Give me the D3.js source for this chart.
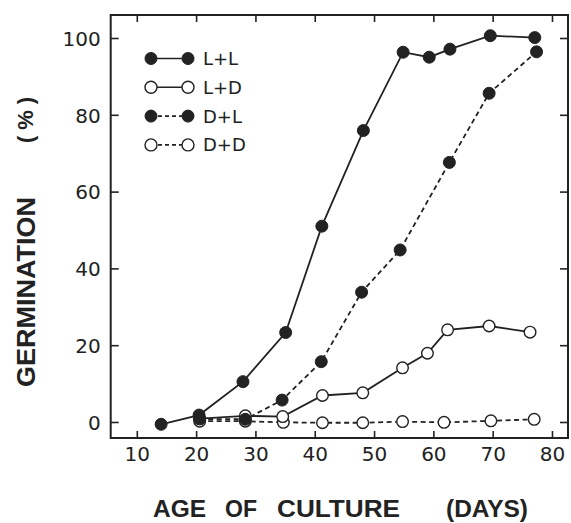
<!DOCTYPE html>
<html>
<head>
<meta charset="utf-8">
<script src="https://cdn.jsdelivr.net/npm/d3@7"></script>
<style>
  body { margin: 0; background: #fff; }
  .tick-label { font-family: "DejaVu Sans", sans-serif; font-size: 20px; fill: #222; }
  .axis-title { font-family: "Liberation Sans", Arial, sans-serif; font-weight: bold; fill: #222; }
  .legend-label { font-family: "DejaVu Sans", sans-serif; font-size: 18px; fill: #222; }
</style>
</head>
<body>
<div id="chart-area"></div>
<script>

// ---- data ----
var seriesNames = ["L+L", "L+D", "D+L", "D+D"];

var daysLL = [14.1, 20.5, 27.9, 35.1, 41.2, 48.2, 54.9, 59.3, 62.8, 69.6, 77.1];
var germLL = [-0.6, 1.8, 10.5, 23.3, 51.0, 75.9, 96.3, 95.0, 97.1, 100.6, 100.1];

var daysLD = [20.6, 28.3, 34.6, 41.3, 48.1, 54.8, 59.0, 62.4, 69.4, 76.3];
var germLD = [0.9, 1.6, 1.4, 6.9, 7.6, 14.1, 17.9, 24.0, 25.0, 23.4];

var daysDL = [20.6, 28.3, 34.5, 41.1, 47.9, 54.4, 62.7, 69.4, 77.4];
var germDL = [0.8, 0.7, 5.7, 15.7, 33.8, 44.8, 67.6, 85.6, 96.4];

var daysDD = [20.6, 28.3, 34.7, 41.3, 48.1, 54.8, 61.8, 69.7, 77.0];
var germDD = [0.2, 0.2, -0.1, -0.2, -0.2, 0.1, -0.1, 0.3, 0.7];

var xTicks = [10, 20, 30, 40, 50, 60, 70, 80];
var yTicks = [0, 20, 40, 60, 80, 100];


/*
 * LineChart - draws the germination curves
 * @param _parentElement  -- id of the container
 * @param _series         -- series in legend order
 * @param _drawOrder      -- order in which the curves are stacked
 */
LineChart = function(_parentElement, _series, _drawOrder){
	this.parentElement = _parentElement;
	this.series = _series;
	this.drawOrder = _drawOrder;
	this.initVis();
}

LineChart.prototype.initVis = function(){
	var vis = this;

	vis.margin = { top: 15, right: 3, bottom: 85, left: 110.7 };
	vis.width = 571 - vis.margin.left - vis.margin.right;
	vis.height = 523 - vis.margin.top - vis.margin.bottom;

	vis.svg = d3.select("#" + vis.parentElement)
		.append("svg")
			.attr("width", 571)
			.attr("height", 523)
		.append("g")
			.attr("transform", "translate(" + vis.margin.left + "," + vis.margin.top + ")");

	// Scales
	vis.x = d3.scaleLinear()
		.domain([5.6, 82.7])
		.range([0, vis.width]);

	vis.y = d3.scaleLinear()
		.domain([-4.17, 105.99])
		.range([vis.height, 0]);

	// Axes, ticks pointing inward on all four sides
	var xAxis = d3.axisBottom(vis.x).tickValues(xTicks).tickSize(-7).tickPadding(9);
	var xAxisTop = d3.axisTop(vis.x).tickValues(xTicks).tickSize(-7).tickFormat("");
	var yAxis = d3.axisLeft(vis.y).tickValues(yTicks).tickSize(-8).tickPadding(10);
	var yAxisRight = d3.axisRight(vis.y).tickValues(yTicks).tickSize(-8).tickFormat("");

	vis.svg.append("g")
		.attr("class", "x-axis axis")
		.attr("transform", "translate(0," + vis.height + ")")
		.call(xAxis);
	vis.svg.append("g").attr("class", "axis").call(xAxisTop);
	vis.svg.append("g").attr("class", "y-axis axis").call(yAxis);
	vis.svg.append("g").attr("class", "axis")
		.attr("transform", "translate(" + vis.width + ",0)")
		.call(yAxisRight);

	vis.svg.selectAll(".axis .domain").remove();
	vis.svg.selectAll(".axis line").attr("stroke", "#222").attr("stroke-width", 1.6);
	vis.svg.selectAll(".axis text").attr("class", "tick-label").attr("fill", "#222");
	vis.svg.selectAll(".y-axis text").attr("dy", ".36em");

	// Frame
	vis.svg.append("rect")
		.attr("x", 0)
		.attr("y", 0)
		.attr("width", vis.width)
		.attr("height", vis.height)
		.attr("fill", "none")
		.attr("stroke", "#222")
		.attr("stroke-width", 2);

	// Axis titles
	var xWords = [["AGE", 153, 53], ["OF", 225, 32], ["CULTURE", 277, 123], ["(DAYS)", 446, 82]];
	vis.svg.selectAll(".x-title")
		.data(xWords)
		.enter().append("text")
			.attr("class", "axis-title x-title")
			.attr("x", function(d) { return d[1] - vis.margin.left; })
			.attr("y", 517 - vis.margin.top)
			.attr("font-size", 24)
			.attr("textLength", function(d) { return d[2]; })
			.attr("lengthAdjust", "spacingAndGlyphs")
			.text(function(d) { return d[0]; });

	vis.svg.append("text")
		.attr("class", "axis-title")
		.attr("transform", "translate(" + (35 - vis.margin.left) + "," + (292 - vis.margin.top) + ") rotate(-90)")
		.attr("text-anchor", "middle")
		.attr("font-size", 26)
		.attr("textLength", 190)
		.attr("lengthAdjust", "spacingAndGlyphs")
		.text("GERMINATION");

	vis.svg.append("text")
		.attr("class", "axis-title")
		.attr("transform", "translate(" + (33 - vis.margin.left) + "," + (120 - vis.margin.top) + ") rotate(-90)")
		.attr("text-anchor", "middle")
		.attr("font-size", 22)
		.attr("font-weight", "normal")
		.attr("textLength", 46)
		.attr("lengthAdjust", "spacing")
		.text("( % )");

	vis.updateVis();
}

LineChart.prototype.updateVis = function(){
	var vis = this;

	var line = d3.line()
		.x(function(d) { return vis.x(d.day); })
		.y(function(d) { return vis.y(d.value); });

	// lines first, then markers on top
	vis.drawOrder.forEach(function(s){
		vis.svg.append("path")
			.datum(s.points)
			.attr("fill", "none")
			.attr("stroke", "#222")
			.attr("stroke-width", 1.8)
			.attr("stroke-dasharray", s.dashed ? "5,3.5" : null)
			.attr("d", line);
	});

	vis.drawOrder.forEach(function(s, k){
		vis.svg.selectAll(".dot-" + k)
			.data(s.points)
			.enter().append("circle")
				.attr("class", "dot-" + k)
				.attr("cx", function(d) { return vis.x(d.day); })
				.attr("cy", function(d) { return vis.y(d.value); })
				.attr("r", s.filled ? 6 : 5.8)
				.attr("fill", s.filled ? "#222" : "#fff")
				.attr("stroke", "#222")
				.attr("stroke-width", s.filled ? 1 : 1.4);
	});

	// Legend
	var legend = vis.svg.selectAll(".legend-item")
		.data(vis.series)
		.enter().append("g")
			.attr("class", "legend-item")
			.attr("transform", function(d, i) {
				return "translate(" + (151 - vis.margin.left) + "," + (58.5 + i * 28.8 - vis.margin.top) + ")";
			});

	legend.append("line")
		.attr("x1", 0).attr("x2", 37)
		.attr("stroke", "#222")
		.attr("stroke-width", 1.6)
		.attr("stroke-dasharray", function(d) { return d.dashed ? "4,3" : null; });

	legend.selectAll("circle")
		.data(function(d) { return [[0, d], [37, d]]; })
		.enter().append("circle")
			.attr("cx", function(d) { return d[0]; })
			.attr("r", 6)
			.attr("fill", function(d) { return d[1].filled ? "#222" : "#fff"; })
			.attr("stroke", "#222")
			.attr("stroke-width", function(d) { return d[1].filled ? 1 : 1.4; });

	legend.append("text")
		.attr("class", "legend-label")
		.attr("x", 52)
		.attr("dy", ".36em")
		.text(function(d) { return d.key; });
}

function zipSeries(days, values){
	return days.map(function(d, i) { return { day: d, value: values[i] }; });
}

var allSeries = [
	{ key: seriesNames[0], filled: true,  dashed: false, points: zipSeries(daysLL, germLL) },
	{ key: seriesNames[1], filled: false, dashed: false, points: zipSeries(daysLD, germLD) },
	{ key: seriesNames[2], filled: true,  dashed: true,  points: zipSeries(daysDL, germDL) },
	{ key: seriesNames[3], filled: false, dashed: true,  points: zipSeries(daysDD, germDD) }
];

// the dashed/open curves sit underneath the L+L curve, as in the figure
var drawOrder = [allSeries[3], allSeries[1], allSeries[2], allSeries[0]];
var chart = new LineChart("chart-area", allSeries, drawOrder);

</script>
</body>
</html>
